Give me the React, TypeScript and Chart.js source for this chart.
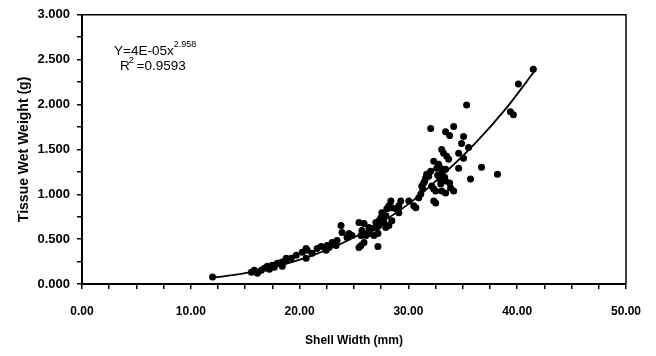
import React, { useEffect, useRef } from 'react';
import { Chart, registerables } from 'chart.js';

Chart.register(...registerables);

// Shell width (mm) of each sampled animal
const shellWidth = [
  12.0, 15.57, 15.84, 16.12, 16.48, 16.76, 17.03, 17.4, 17.67, 17.95, 18.32, 18.59, 18.77, 17.22, 17.49, 18.41,
  18.77, 19.23, 19.69, 20.24, 20.6, 20.7, 21.15, 21.61, 21.98, 20.6, 22.44, 22.53, 22.99, 23.35, 23.44, 22.71,
  23.81, 23.9, 24.36, 24.54, 24.82, 25.46, 25.46, 25.64, 25.92, 25.73, 25.64, 25.92, 26.1, 26.37, 26.37, 26.65,
  26.83, 27.01, 27.11, 27.2, 27.2, 27.29, 27.29, 27.47, 27.56, 27.75, 27.93, 27.93, 28.02, 28.21, 28.21, 28.39,
  28.48, 28.48, 28.85, 29.12, 29.12, 29.3, 30.04, 30.49, 30.68, 30.95, 31.14, 31.32, 31.23, 31.41, 31.5, 31.59,
  31.68, 31.87, 32.05, 32.14, 32.33, 32.33, 32.33, 32.51, 32.51, 32.6, 32.69, 32.78, 32.88, 32.97, 32.97, 33.06,
  33.06, 33.06, 33.24, 33.33, 33.42, 33.42, 33.52, 33.7, 33.79, 33.88, 34.16, 34.62, 34.62, 32.05, 33.42, 33.79,
  34.16, 35.07, 34.89, 35.53, 35.07, 35.35, 35.71, 36.72, 38.19, 39.38, 39.65, 40.11, 41.48, 33.42,
];

// Tissue wet weight (g) of each sampled animal
const tissueWeight = [
  0.077, 0.132, 0.154, 0.121, 0.154, 0.176, 0.199, 0.187, 0.187, 0.232, 0.243, 0.254, 0.287, 0.165, 0.21, 0.199,
  0.265, 0.287, 0.32, 0.353, 0.287, 0.375, 0.342, 0.397, 0.419, 0.397, 0.375, 0.43, 0.463, 0.43, 0.485, 0.408,
  0.651, 0.574, 0.518, 0.562, 0.54, 0.684, 0.408, 0.43, 0.463, 0.596, 0.54, 0.673, 0.54, 0.629, 0.562, 0.618,
  0.54, 0.684, 0.629, 0.562, 0.419, 0.706, 0.651, 0.739, 0.794, 0.684, 0.761, 0.629, 0.838, 0.871, 0.651, 0.926,
  0.706, 0.849, 0.838, 0.871, 0.794, 0.926, 0.926, 0.871, 0.849, 0.96, 1.004, 1.059, 1.092, 1.125, 1.147, 1.18,
  1.224, 1.202, 1.257, 1.092, 1.059, 1.368, 0.926, 0.904, 1.037, 1.29, 1.213, 1.335, 1.169, 1.29, 1.114, 1.235,
  1.037, 1.5, 1.456, 1.191, 1.279, 1.147, 1.423, 1.39, 1.125, 1.07, 1.037, 1.456, 1.29, 1.732, 1.698, 1.654,
  1.754, 1.643, 1.566, 1.522, 1.401, 1.996, 1.169, 1.301, 1.224, 1.919, 1.886, 2.228, 2.393, 1.015,
];

// Power trend line
const trendX = [12.0, 15, 18, 21, 24, 27, 30, 33, 36, 39, 41.7];
const trendY = [0.07, 0.12, 0.2, 0.31, 0.46, 0.65, 0.89, 1.2, 1.55, 1.96, 2.39];

const xTitle = 'Shell Width (mm)';
const yTitle = 'Tissue Wet Weight (g)';
const equationMain = 'Y=4E-05x';
const equationExp = '2.958';
const r2Main = 'R';
const r2Exp = '2';
const r2Value = ' =0.9593';

const FONT = "'Liberation Sans', Arial, sans-serif";

const framePlugin = {
  id: 'frameAndEquation',
  afterDraw(chart: any) {
    const { ctx, chartArea } = chart;
    const { left, top, right, bottom } = chartArea;
    ctx.save();
    ctx.strokeStyle = '#000';
    ctx.lineWidth = 1.5;
    ctx.beginPath();
    ctx.moveTo(left, top);
    ctx.lineTo(right, top);
    ctx.lineTo(right, bottom);
    ctx.stroke();

    ctx.fillStyle = '#000';
    ctx.textBaseline = 'alphabetic';
    ctx.textAlign = 'left';
    let x = left + 32;
    let y = top + 40;
    ctx.font = `13.5px ${FONT}`;
    ctx.fillText(equationMain, x, y);
    x += ctx.measureText(equationMain).width;
    ctx.font = `9px ${FONT}`;
    ctx.fillText(equationExp, x, y - 8);

    x = left + 38;
    y = top + 55;
    ctx.font = `13.5px ${FONT}`;
    ctx.fillText(r2Main, x, y);
    x += ctx.measureText(r2Main).width;
    ctx.font = `9px ${FONT}`;
    ctx.fillText(r2Exp, x - 1, y - 7);
    x += 3;
    ctx.font = `13.5px ${FONT}`;
    ctx.fillText(r2Value, x, y);
    ctx.restore();
  },
};

export default function App() {
  const ref = useRef<HTMLCanvasElement | null>(null);

  useEffect(() => {
    if (!ref.current) return;
    const chart = new Chart(ref.current, {
      type: 'scatter',
      data: {
        datasets: [
          {
            type: 'line',
            data: trendX.map((x, i) => ({ x, y: trendY[i] })),
            borderColor: '#000',
            borderWidth: 1.8,
            pointRadius: 0,
            cubicInterpolationMode: 'monotone',
            fill: false,
            order: 2,
          } as any,
          {
            type: 'scatter',
            data: shellWidth.map((x, i) => ({ x, y: tissueWeight[i] })),
            backgroundColor: '#000',
            borderColor: '#000',
            borderWidth: 0,
            pointRadius: 3.5,
            order: 1,
          } as any,
        ],
      },
      options: {
        animation: false,
        responsive: false,
        maintainAspectRatio: false,
        layout: { padding: { left: 12, top: 12, right: 28, bottom: 4 } },
        plugins: { legend: { display: false }, tooltip: { enabled: false } },
        scales: {
          x: {
            type: 'linear',
            min: 0,
            max: 50,
            ticks: {
              stepSize: 2.5,
              autoSkip: false,
              maxRotation: 0,
              padding: 15,
              color: '#000',
              font: { family: FONT, size: 12, weight: 'bold' },
              callback: (v: any) => (Math.abs(v % 10) < 1e-6 ? Number(v).toFixed(2) : ''),
            },
            grid: { drawOnChartArea: false, tickLength: 5, color: '#000', lineWidth: 1.5 },
            border: { color: '#000', width: 2 },
            title: {
              display: true,
              text: xTitle,
              color: '#000',
              font: { family: FONT, size: 12, weight: 'bold' },
            },
            afterFit: (s: any) => {
              s.height = 68;
            },
          },
          y: {
            type: 'linear',
            min: 0,
            max: 3,
            ticks: {
              stepSize: 0.25,
              autoSkip: false,
              padding: 7,
              color: '#000',
              font: { family: FONT, size: 13, weight: 'bold' },
              callback: (v: any) => {
                const d = Number(v) * 2;
                return Math.abs(d - Math.round(d)) < 1e-6 ? Number(v).toFixed(3) : '';
              },
            },
            grid: { drawOnChartArea: false, tickLength: 5, color: '#000', lineWidth: 1.5 },
            border: { color: '#000', width: 2 },
            title: {
              display: true,
              text: yTitle,
              color: '#000',
              font: { family: FONT, size: 14, weight: 'bold' },
            },
            afterFit: (s: any) => {
              s.width = 70;
            },
          },
        },
      } as any,
      plugins: [framePlugin],
    });
    return () => chart.destroy();
  }, []);

  return (
    <div style={{ position: 'fixed', left: 0, top: 0, width: 656, height: 356, background: '#fff' }}>
      <canvas ref={ref} width={656} height={356} style={{ width: 656, height: 356, display: 'block' }} />
    </div>
  );
}
